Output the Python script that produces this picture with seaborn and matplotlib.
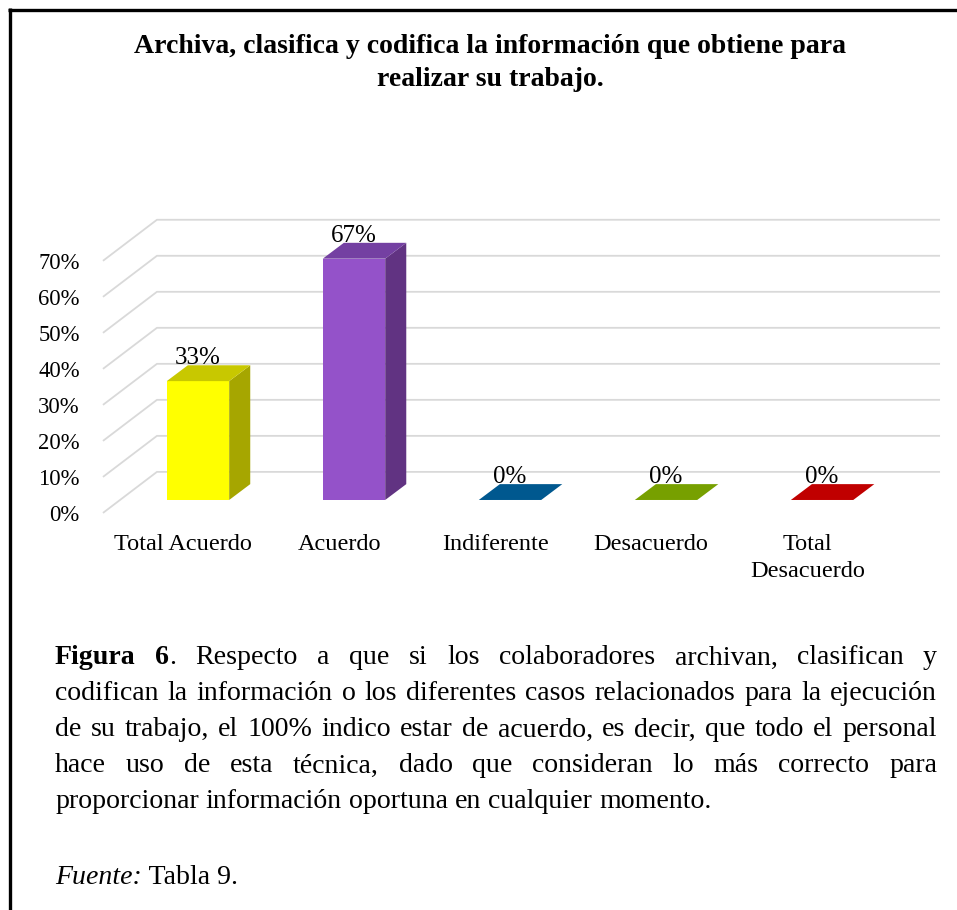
import matplotlib
matplotlib.use('Agg')
import matplotlib.pyplot as plt
import seaborn as sns
from matplotlib.patches import Polygon
from matplotlib.lines import Line2D

# Data
categories = ['Total Acuerdo', 'Acuerdo', 'Indiferente', 'Desacuerdo', 'Total\nDesacuerdo']
values = [33, 67, 0, 0, 0]
front_colors = ['#FFFF00', '#9452C9', '#1F6FB5', '#8CB800', '#E00000']
side_colors = ['#A6A600', '#613382', '#00548F', '#6A9200', '#B00000']
top_colors = ['#C8C800', '#7440A2', '#00588F', '#77A000', '#C00000']
tick_values = [0, 10, 20, 30, 40, 50, 60, 70]

title = 'Archiva, clasifica y codifica la información que obtiene para\nrealizar su trabajo.'
caption_lines = [
    [[('Figura', 'bold')], [('6', 'bold'), ('.', 'normal')], 'Respecto', 'a', 'que', 'si',
     'los', 'colaboradores', 'archivan,', 'clasifican', 'y'],
    'codifican la información o los diferentes casos relacionados para la ejecución'.split(),
    'de su trabajo, el 100% indico estar de acuerdo, es decir, que todo el personal'.split(),
    'hace uso de esta técnica, dado que consideran lo más correcto para'.split(),
    'proporcionar información oportuna en cualquier momento.'.split(),
]

sns.set_style('white')
plt.rcParams['font.family'] = ['Liberation Serif', 'DejaVu Serif']
plt.rcParams['text.color'] = 'black'
plt.rcParams['xtick.color'] = 'black'
plt.rcParams['ytick.color'] = 'black'

W, H = 957, 910
fig = plt.figure(figsize=(W / 100, H / 100), dpi=100)

# axes placed in pixel terms
ax_l, ax_r, ax_t, ax_b = 95, 950, 205, 520
ax = fig.add_axes([ax_l / W, 1 - ax_b / H, (ax_r - ax_l) / W, (ax_b - ax_t) / H])

sns.barplot(x=list(range(len(categories))), y=values, hue=list(range(len(categories))),
            palette=front_colors, width=0.4, legend=False, ax=ax, native_scale=True,
            saturation=1, linewidth=0, zorder=3)

# pseudo-3D geometry (data units)
dx, dy = 0.135, 4.4
front_off, back_off = -3.6, 7.8
x_front, x_back, x_right = -0.609, -0.263, 4.756

ax.set_xlim(-0.66, 4.82)
ax.set_ylim(-5.56, 81.9)

for v in tick_values:
    ax.plot([x_front, x_back, x_right], [v + front_off, v + back_off, v + back_off],
            color='#D9D9D9', lw=1.3, zorder=1, solid_capstyle='butt')

for i, p in enumerate(ax.patches):
    x0, y0, w, h = p.get_x(), p.get_y(), p.get_width(), p.get_height()
    if h > 0:
        side = [(x0 + w, y0), (x0 + w + dx, y0 + dy), (x0 + w + dx, y0 + h + dy), (x0 + w, y0 + h)]
        ax.add_patch(Polygon(side, closed=True, facecolor=side_colors[i], lw=0, zorder=3))
    top = [(x0, y0 + h), (x0 + w, y0 + h), (x0 + w + dx, y0 + h + dy), (x0 + dx, y0 + h + dy)]
    ax.add_patch(Polygon(top, closed=True, facecolor=top_colors[i], lw=0, zorder=3))
    ax.text(x0 + w / 2, y0 + h + dy + 0.3, f'{values[i]}%', ha='center', va='baseline',
            fontsize=18, color='black', zorder=5)

ax.set_yticks([v + front_off for v in tick_values], [f'{v}%' for v in tick_values])
ax.set_xticks([i - 0.095 for i in range(len(categories))], categories)
ax.tick_params(axis='y', length=0, pad=11, labelsize=16.3)
ax.tick_params(axis='x', length=0, pad=10, labelsize=17.5)
for lab in ax.get_xticklabels():
    lab.set_linespacing(1.4)
ax.set_xlabel('')
ax.set_ylabel('')
for s in ax.spines.values():
    s.set_visible(False)
ax.patch.set_alpha(0)

# title
fig.text(490 / W, 1 - 63 / H, title, ha='center', va='center', fontsize=20,
         fontweight='bold', linespacing=1.45)

# border (top and left)
fig.add_artist(Line2D([8 / W, 1], [1 - 9.5 / H, 1 - 9.5 / H], color='black', lw=2.4,
                      transform=fig.transFigure, solid_capstyle='butt'))
fig.add_artist(Line2D([9.5 / W, 9.5 / W], [1 - 8 / H, 0], color='black', lw=2.4,
                      transform=fig.transFigure, solid_capstyle='butt'))

# justified caption
renderer = fig.canvas.get_renderer()
cap_size = 20.1
x_left, x_right_px = 55, 937
line_y = [658, 694, 730, 766, 802]


def make_word(word, y):
    segs = word if isinstance(word, list) else [(word, 'normal')]
    arts = []
    for txt, style in segs:
        t = fig.text(0, 1 - y / H, txt, fontsize=cap_size, va='center', ha='left',
                     fontweight='bold' if style == 'bold' else 'normal',
                     fontstyle='italic' if style == 'italic' else 'normal')
        arts.append((t, t.get_window_extent(renderer).width))
    return arts


for li, words in enumerate(caption_lines):
    y = line_y[li]
    built = [make_word(wd, y) for wd in words]
    widths = [sum(w for _, w in b) for b in built]
    if li < len(caption_lines) - 1:
        gap = (x_right_px - x_left - sum(widths)) / (len(built) - 1)
    else:
        gap = fig.text(0, 0, ' ', fontsize=cap_size).get_window_extent(renderer).width
    x = x_left
    for b, wd in zip(built, widths):
        xx = x
        for t, w in b:
            t.set_x(xx / W)
            xx += w
        x += wd + gap

src = make_word([('Fuente:', 'italic'), (' Tabla 9.', 'normal')], 878)
xx = x_left
for t, w in src:
    t.set_x(xx / W)
    xx += w

fig.savefig('out.png', dpi=100)
